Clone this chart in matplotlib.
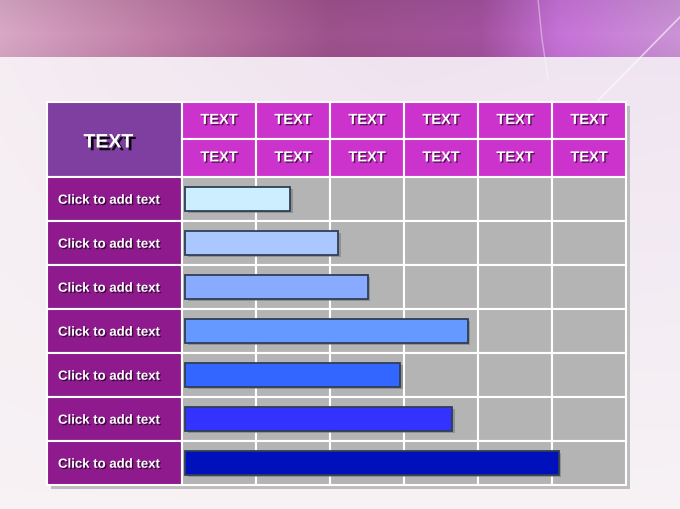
import numpy as np
import matplotlib
matplotlib.use("Agg")
import matplotlib.pyplot as plt
import matplotlib.patheffects as pe
from matplotlib.patches import Rectangle

plt.rcParams['font.family'] = ['Liberation Sans', 'DejaVu Sans']

# data
corner_label = "TEXT"
col_labels_top = ["TEXT"] * 6
col_labels_bottom = ["TEXT"] * 6
row_labels = ["Click to add text"] * 7
bar_ends = [1.46, 2.11, 2.51, 3.86, 2.95, 3.65, 5.09]   # in column units
bar_colors = ["#CCEEFF", "#AAC8FF", "#88AAFF", "#6699FF", "#3366FF", "#3333FF", "#0011BB"]

W, H = 680, 510
fig = plt.figure(figsize=(W / 100, H / 100), dpi=100)

# background
ax_bg = fig.add_axes([0, 0, 1, 1])
ax_bg.set_xlim(0, W)
ax_bg.set_ylim(H, 0)
ax_bg.axis("off")

img = np.zeros((H, W, 3))
xs = np.arange(W)
band_x = [0, 150, 330, 480, 560, 680]
band_c = np.array([[0.85, 0.66, 0.78], [0.76, 0.50, 0.66], [0.62, 0.32, 0.55],
                   [0.64, 0.32, 0.62], [0.78, 0.45, 0.85], [0.80, 0.58, 0.84]])
band = np.stack([np.interp(xs, band_x, band_c[:, k]) for k in range(3)], axis=1)
for y in range(58):
    img[y] = band * (1.0 - 0.06 * abs(y - 35) / 35)
low_c = np.array([[0.96, 0.93, 0.95], [0.94, 0.89, 0.94], [0.94, 0.90, 0.95]])
low = np.stack([np.interp(xs, [0, 400, 680], low_c[:, k]) for k in range(3)], axis=1)
for y in range(58, H):
    t = (y - 58) / (H - 58)
    img[y] = low * (1 - t) + np.array([0.97, 0.95, 0.96]) * t
ax_bg.imshow(img, extent=(0, W, H, 0), aspect="auto", zorder=0)
ax_bg.plot([680, 575], [18, 125], color="white", lw=1.2, alpha=0.6, zorder=1)
ax_bg.plot([538, 542, 548], [0, 40, 80], color="white", lw=1.0, alpha=0.4, zorder=1)

# table geometry (pixels)
x0, x1 = 47, 182
col_w = 74
ncol = 6
head_top, head_mid, head_bot = 103, 140, 178
row_h = 44
nrow = len(row_labels)
tab_right = x1 + ncol * col_w
tab_bot = head_bot + nrow * row_h

# shadow
ax_bg.add_patch(Rectangle((x0 + 4, head_top + 4), tab_right - x0, tab_bot - head_top,
                          facecolor="#BDBDBD", edgecolor="none", zorder=2))

shadow = [pe.withSimplePatchShadow(offset=(1.0, -1.0), shadow_rgbFace="black", alpha=0.6)]
big_shadow = [pe.withSimplePatchShadow(offset=(2, -2), shadow_rgbFace="black", alpha=0.9)]


def label(x, y, s, size, ha="center", pes=shadow):
    # place baseline so that the capitals sit centred on y
    cap = 0.716 * size * 100 / 72
    ax_bg.text(x, y + cap / 2, s, color="white", fontsize=size, fontweight="bold",
               ha=ha, va="baseline", zorder=5, path_effects=pes)


ax_bg.add_patch(Rectangle((x0, head_top), x1 - x0, head_bot - head_top,
                          facecolor="#7F3FA0", edgecolor="white", lw=1.5, zorder=3))
label((x0 + x1) / 2 - 6, 141.5, corner_label, 14, pes=big_shadow)

for j in range(ncol):
    cx = x1 + j * col_w
    for (ya, yb, lab) in [(head_top, head_mid, col_labels_top[j]),
                          (head_mid, head_bot, col_labels_bottom[j])]:
        ax_bg.add_patch(Rectangle((cx, ya), col_w, yb - ya, facecolor="#CC33CC",
                                  edgecolor="white", lw=1.5, zorder=3))
        label(cx + col_w / 2, (ya + yb) / 2 - 1.8, lab, 10.5)

for i, lab in enumerate(row_labels):
    ry = head_bot + i * row_h
    ax_bg.add_patch(Rectangle((x0, ry), x1 - x0, row_h, facecolor="#8E1A8E",
                              edgecolor="white", lw=1.5, zorder=3))
    label(x0 + 11, ry + row_h / 2, lab, 9.5, ha="left")
    for j in range(ncol):
        ax_bg.add_patch(Rectangle((x1 + j * col_w, ry), col_w, row_h, facecolor="#B4B4B4",
                                  edgecolor="white", lw=1.5, zorder=3))

# bars on an axes over the grid area
ax = fig.add_axes([x1 / W, (H - tab_bot) / H, (tab_right - x1) / W, (tab_bot - head_bot) / H])
ax.patch.set_alpha(0)
ax.set_xlim(0, ncol)
ax.set_ylim(nrow, 0)
ax.axis("off")
left = 0.04
ypos = np.arange(nrow) + 0.5
widths = np.array(bar_ends) - left
ax.barh(ypos + 0.05, widths, left=left + 0.035, height=0.55, color="#7A7A7A",
        edgecolor="none", alpha=0.6, zorder=2)
ax.barh(ypos, widths, left=left, height=0.55, color=bar_colors,
        edgecolor="#2E3F55", linewidth=1.3, zorder=3)

fig.savefig("out.png", dpi=100)
